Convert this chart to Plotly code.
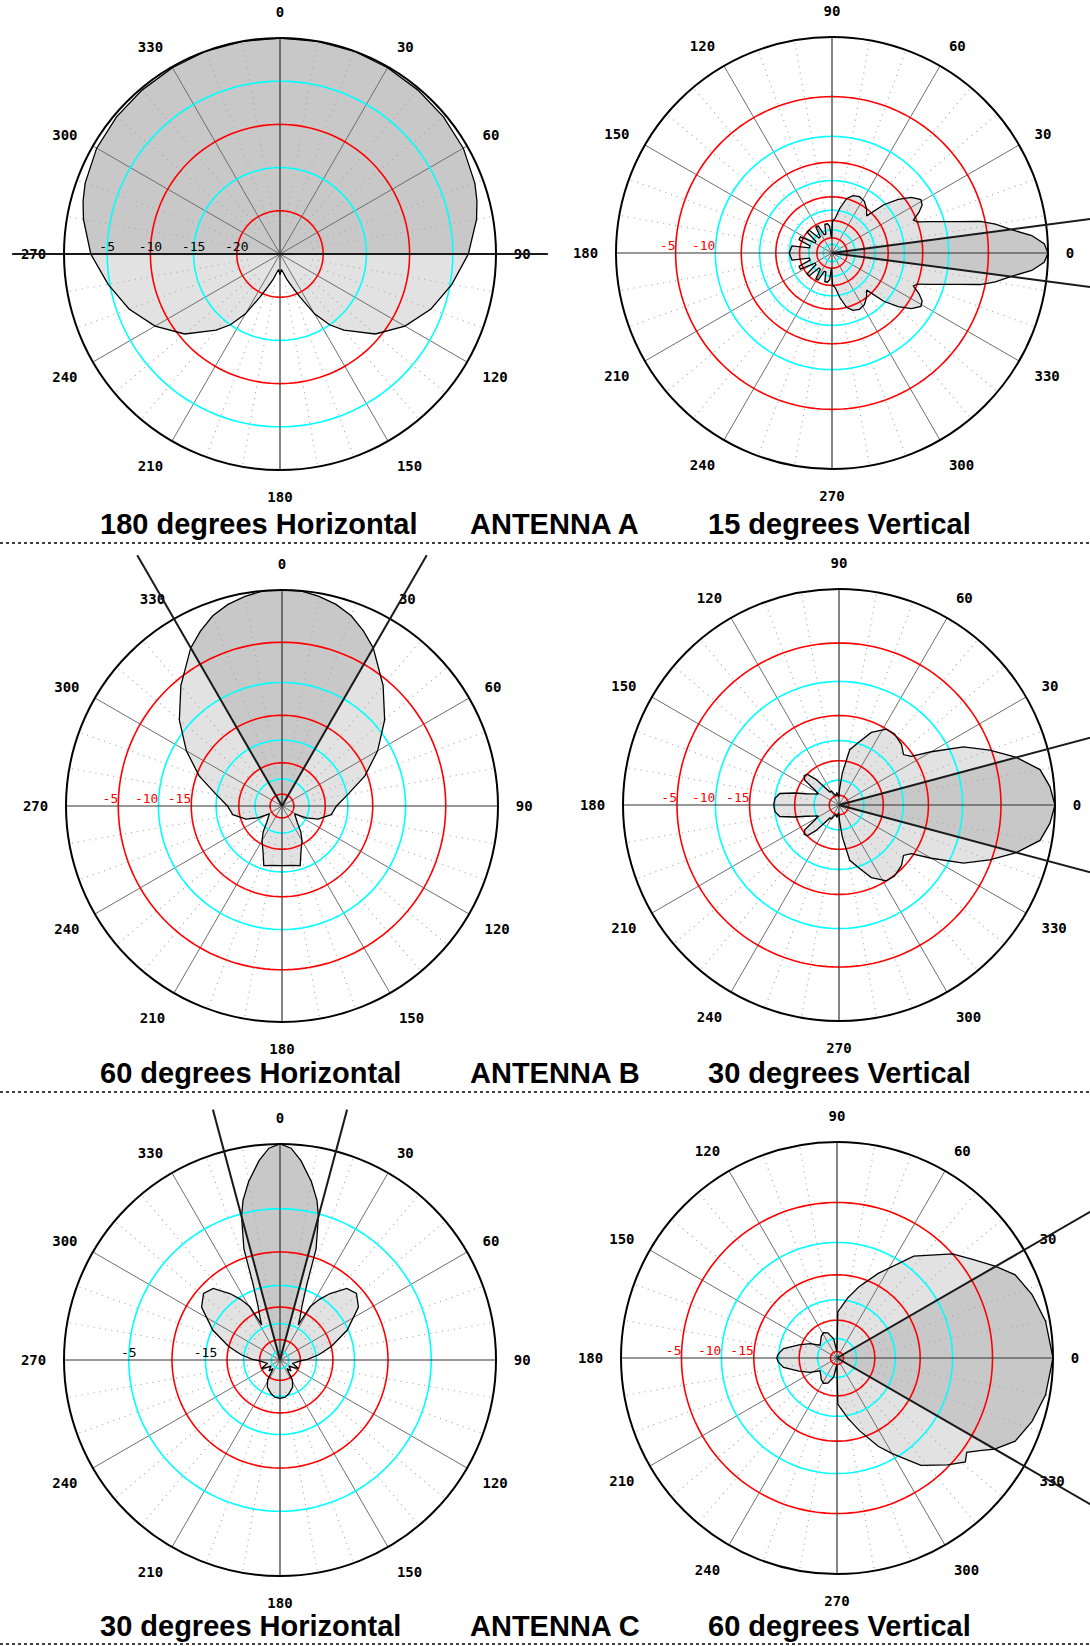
import numpy as np
import plotly.graph_objects as go

# ---------------------------------------------------------------- data
TICK_ANGLES = [0, 30, 60, 90, 120, 150, 180, 210, 240, 270, 300, 330]
TICK_LABELS = ["0", "30", "60", "90", "120", "150", "180", "210", "240", "270", "300", "330"]

# Antenna A - horizontal pattern (180 deg beam), bearing clockwise from top, dB
A_H_THETA = [-180, -175, -170, -165, -160, -155, -150, -145, -140, -130, -120, -110, -100, -90,
             -80, -75, -70, -60, -50, -40, -30, -20, -10, 0, 10, 20, 30, 40, 50, 60, 70, 75, 80,
             90, 100, 110, 120, 130, 140, 145, 150, 155, 160, 165, 170, 175, 180]
A_H_DB = [-22.6, -23.2, -22.8, -22.0, -21.0, -19.5, -17.0, -15.0, -13.5, -10.6, -8.3, -6.4, -4.8, -3.1,
          -1.9, -1.4, -1.0, -0.5, -0.3, -0.2, -0.1, 0, 0, 0, 0, 0, -0.1, -0.2, -0.3, -0.5, -1.0, -1.4, -1.9,
          -3.2, -4.8, -6.4, -8.3, -10.6, -13.5, -15.0, -17.0, -19.5, -21.0, -22.0, -22.8, -23.2, -22.6]

# Antenna A - vertical pattern (15 deg beam), elevation counter-clockwise from right, dB
A_V_THETA = [-180, -170, -167, -162, -158, -153, -149, -144, -140, -135, -131, -126, -122, -117, -113,
             -108, -104, -99, -95, -92, -89, -85, -80, -75, -70, -64, -58, -52, -47, -43, -39, -35, -31,
             -28, -25, -22, -20, -18, -16, -14, -12, -10, -7.5, -5, -2.5, 0, 2.5, 5, 7.5, 10, 12, 14,
             16, 18, 20, 22, 25, 28, 31, 35, 39, 43, 47, 52, 58, 64, 70, 75, 80, 85, 89, 92, 95, 99,
             104, 108, 113, 117, 122, 126, 131, 135, 140, 144, 149, 153, 158, 162, 167, 170, 180]
A_V_DB = [-30.0, -31.0, -40.0, -40.0, -33.5, -33.5, -42.0, -42.0, -35.0, -35.0, -42.0, -42.0, -36.0,
          -36.0, -42.0, -42.0, -36.5, -36.5, -38.0, -45.0, -35.0, -34.0, -29.0, -25.0, -23.5, -23.0,
          -23.5, -25.0, -27.0, -20.5, -16.5, -13.8, -12.5, -12.8, -14.0, -15.8, -15.0, -12.9, -10.6,
          -8.4, -5.6, -4.2, -3.0, -1.3, -0.3, 0, -0.3, -1.3, -3.0, -4.2, -5.6, -8.4, -10.6, -12.9,
          -15.0, -15.8, -14.0, -12.8, -12.5, -13.8, -16.5, -20.5, -27.0, -25.0, -23.5, -23.0, -23.5,
          -25.0, -29.0, -34.0, -35.0, -45.0, -38.0, -36.5, -36.5, -42.0, -42.0, -36.0, -36.0, -42.0,
          -42.0, -35.0, -35.0, -42.0, -42.0, -33.5, -33.5, -40.0, -40.0, -31.0, -30.0]

# Antenna B - horizontal pattern (60 deg beam)
B_H_THETA = [-180, -170, -163, -158, -150, -144, -137, -130, -122, -116, -110, -100, -90, -80, -70,
             -60, -50, -40, -30, -25, -20, -15, -10, -5, 0, 5, 10, 15, 20, 25, 30, 40, 50, 60, 70, 80,
             90, 100, 110, 116, 122, 130, 137, 144, 150, 158, 163, 170, 180]
B_H_DB = [-21.4, -21.2, -20.8, -23.4, -26.0, -28.5, -31.5, -33.0, -34.0, -30.0, -26.5, -23.5, -22.5,
          -19.8, -15.5, -12.0, -8.7, -5.8, -3.2, -2.2, -1.3, -0.7, -0.3, 0, 0, 0, -0.3, -0.7, -1.3,
          -2.2, -3.2, -5.8, -8.7, -12.0, -15.5, -19.8, -22.5, -23.5, -26.5, -30.0, -34.0, -33.0,
          -31.5, -28.5, -26.0, -23.4, -20.8, -21.2, -21.4]

# Antenna B - vertical pattern (30 deg beam)
B_V_THETA = [-180, -174, -169, -165, -161, -157, -152, -148, -144, -140, -136, -132, -125, -118, -110,
             -100, -92, -88, -84, -79, -72, -66, -58, -52, -44, -38, -34, -30, -25, -20, -15, -10, -5,
             0, 5, 10, 15, 20, 25, 30, 34, 38, 44, 52, 58, 66, 72, 79, 84, 88, 92, 100, 110, 118, 125,
             132, 136, 140, 144, 148, 152, 157, 161, 165, 169, 174, 180]
B_V_DB = [-19.8, -20.0, -21.0, -24.5, -27.5, -29.0, -30.5, -29.0, -25.5, -24.7, -25.0, -27.5, -33.0,
          -33.0, -35.0, -34.0, -36.0, -33.0, -28.0, -22.0, -19.5, -17.0, -15.0, -14.9, -15.5, -16.5,
          -15.5, -12.5, -8.2, -5.2, -3.0, -1.1, -0.4, 0, -0.4, -1.1, -3.0, -5.2, -8.2, -12.5, -15.5,
          -16.5, -15.5, -14.9, -15.0, -17.0, -19.5, -22.0, -28.0, -33.0, -36.0, -34.0, -35.0, -33.0,
          -33.0, -27.5, -25.0, -24.7, -25.5, -29.0, -30.5, -29.0, -27.5, -24.5, -21.0, -20.0, -19.8]

# Antenna C - horizontal pattern (30 deg beam)
C_H_THETA = [-180, -172, -165, -155, -148, -141, -135, -125, -115, -105, -95, -88, -82, -75, -66, -56,
             -49, -43, -37, -33, -29.5, -27.5, -25, -22, -19.5, -18, -15, -13, -10, -6, -3, 0, 3, 6,
             10, 13, 15, 18, 19.5, 22, 25, 27.5, 29.5, 33, 37, 43, 49, 56, 66, 75, 82, 88, 95, 105,
             115, 125, 135, 141, 148, 155, 165, 172, 180]
C_H_DB = [-24.4, -24.6, -25.5, -27.0, -29.0, -34.0, -32.0, -34.0, -30.0, -33.0, -31.0, -27.5, -24.0,
          -19.9, -15.2, -12.0, -11.0, -11.5, -13.7, -15.5, -18.0, -24.0, -21.6, -18.5, -14.0, -9.0,
          -5.3, -4.0, -2.7, -1.2, -0.3, 0, -0.3, -1.2, -2.7, -4.0, -5.3, -9.0, -14.0, -18.5, -21.6,
          -24.0, -18.0, -15.5, -13.7, -11.5, -11.0, -12.0, -15.2, -19.9, -24.0, -27.5, -31.0, -33.0,
          -30.0, -34.0, -32.0, -34.0, -29.0, -27.0, -25.5, -24.6, -24.4]

# Antenna C - vertical pattern (60 deg beam)
C_V_THETA = [-180, -176, -170, -161, -152, -143, -135, -126, -118, -110, -100, -91, -89, -86, -80, -73,
             -65, -60, -52, -44, -39, -36, -33, -30, -25, -18, -10, 0, 10, 18, 25, 30, 36, 42, 53,
             64, 73, 80, 86, 89, 91, 100, 110, 118, 126, 135, 143, 152, 161, 170, 176, 180]
C_V_DB = [-19.6, -19.9, -21.0, -24.4, -27.0, -29.5, -29.0, -28.0, -27.5, -28.0, -30.0, -35.0, -23.0,
          -22.0, -19.5, -16.5, -12.8, -10.8, -7.4, -5.2, -4.2, -4.6, -3.8, -2.8, -1.6, -0.9, -0.35,
          0, -0.35, -0.9, -1.6, -2.7, -4.0, -5.0, -8.5, -13.3, -16.8, -19.5, -22.0, -23.0, -35.0,
          -30.0, -28.0, -27.5, -28.0, -29.0, -29.5, -27.0, -24.4, -21.0, -19.9, -19.6]

# dB scale of each plot (ring level -> fraction of the outer radius)
A_H_SCALE_DB = [-25, -20, -15, -10, -5, 0]
A_H_SCALE_R = [0.0, 0.2, 0.4, 0.6, 0.8, 1.0]
A_V_SCALE_DB = [-55, -50, -45, -40, -35, -30, -25, -20, -15, -10, -5, 0]
A_V_SCALE_R = [0.0, 0.04, 0.07, 0.107, 0.15, 0.198, 0.26, 0.335, 0.42, 0.54, 0.724, 1.0]
B_H_SCALE_DB = [-40, -35, -30, -25, -20, -15, -10, -5, 0]
B_H_SCALE_R = [0.0, 0.055, 0.125, 0.2, 0.305, 0.42, 0.572, 0.758, 1.0]
B_V_SCALE_DB = [-40, -35, -30, -25, -20, -15, -10, -5, 0]
B_V_SCALE_R = [0.0, 0.045, 0.115, 0.205, 0.298, 0.414, 0.572, 0.75, 1.0]
C_H_SCALE_DB = [-40, -35, -30, -25, -20, -15, -10, -5, 0]
C_H_SCALE_R = [0.0, 0.04, 0.094, 0.168, 0.245, 0.345, 0.50, 0.70, 1.0]
C_V_SCALE_DB = [-40, -35, -30, -25, -20, -15, -10, -5, 0]
C_V_SCALE_R = [0.0, 0.03, 0.09, 0.175, 0.27, 0.385, 0.535, 0.72, 1.0]

BEAMWIDTHS = [180, 15, 60, 30, 30, 60]
RADIAL_LABELS = [[-5, -10, -15, -20], [-5, -10], [-5, -10, -15], [-5, -10, -15], [-5, -15], [-5, -10, -15]]
ROW_TITLES = [("180 degrees Horizontal", "ANTENNA A", "15 degrees Vertical"),
              ("60 degrees Horizontal", "ANTENNA B", "30 degrees Vertical"),
              ("30 degrees Horizontal", "ANTENNA C", "60 degrees Vertical")]

# ---------------------------------------------------------------- style
W, H = 1090, 1646
R = 216
RED, CYAN = "#ff0000", "#00ffff"
LIGHT, DARK = "#e2e2e2", "#c8c8c8"

panels = [
    dict(theta=A_H_THETA, db=A_H_DB, sdb=A_H_SCALE_DB, sr=A_H_SCALE_R, kind="h", c=(280, 254),
         ext=1.24, first=CYAN, lcol="black", lpos="top center"),
    dict(theta=A_V_THETA, db=A_V_DB, sdb=A_V_SCALE_DB, sr=A_V_SCALE_R, kind="v", c=(832, 253),
         ext=1.6, first=RED, lcol=RED, lpos="top left"),
    dict(theta=B_H_THETA, db=B_H_DB, sdb=B_H_SCALE_DB, sr=B_H_SCALE_R, kind="h", c=(282, 806),
         ext=1.34, first=RED, lcol=RED, lpos="top left"),
    dict(theta=B_V_THETA, db=B_V_DB, sdb=B_V_SCALE_DB, sr=B_V_SCALE_R, kind="v", c=(839, 805),
         ext=1.6, first=RED, lcol=RED, lpos="top left"),
    dict(theta=C_H_THETA, db=C_H_DB, sdb=C_H_SCALE_DB, sr=C_H_SCALE_R, kind="h", c=(280, 1360),
         ext=1.2, first=CYAN, lcol="black", lpos="top center"),
    dict(theta=C_V_THETA, db=C_V_DB, sdb=C_V_SCALE_DB, sr=C_V_SCALE_R, kind="v", c=(837, 1358),
         ext=1.6, first=RED, lcol=RED, lpos="top left"),
]

fig = go.Figure()
layout_polars = {}
shapes = []

for i, p in enumerate(panels):
    sub = "polar" if i == 0 else f"polar{i + 1}"
    sdb = np.array(p["sdb"], float)
    sr = np.array(p["sr"], float)

    def scale(v, sdb=sdb, sr=sr):
        return np.interp(np.asarray(v, float), sdb, sr)

    th = np.array(p["theta"], float)
    rr = scale(p["db"])
    common = dict(subplot=sub, hoverinfo="skip", showlegend=False)

    # light fill (whole pattern)
    fig.add_trace(go.Scatterpolar(theta=th, r=rr, mode="lines", fill="toself", fillcolor=LIGHT,
                                  line=dict(width=0, color="rgba(0,0,0,0)"), **common))
    # dark fill (part of the pattern inside the beamwidth)
    half = BEAMWIDTHS[i] / 2.0
    sel = np.abs(th) <= half + 1e-9
    th_d = np.concatenate([[th[sel][0]], th[sel], [th[sel][-1]]])
    r_d = np.concatenate([[0.0], rr[sel], [0.0]])
    fig.add_trace(go.Scatterpolar(theta=th_d, r=r_d, mode="lines", fill="toself", fillcolor=DARK,
                                  line=dict(width=0, color="rgba(0,0,0,0)"), **common))

    # dotted 10-degree lines
    dt, dr = [], []
    for a in range(0, 360, 10):
        if a % 30:
            dt += [a, a, None]
            dr += [0.15, 1.0, None]
    fig.add_trace(go.Scatterpolar(theta=dt, r=dr, mode="lines",
                                  line=dict(color="#a8a8a8", width=1.2, dash="1px,5px"), **common))
    # 30-degree spokes
    st, srr = [], []
    for a in TICK_ANGLES:
        if a % 90:
            st += [a, a, None]
            srr += [0.0, 1.0, None]
    fig.add_trace(go.Scatterpolar(theta=st, r=srr, mode="lines",
                                  line=dict(color="#6e6e6e", width=1), **common))

    # coloured dB rings
    levels = [v for v in p["sdb"] if v < 0 and v > min(p["sdb"])][::-1]
    other = CYAN if p["first"] == RED else RED
    ring_t = np.arange(0, 361, 2.0)
    for col in (p["first"], other):
        rt, rv = [], []
        for k, lv in enumerate(levels):
            c = p["first"] if k % 2 == 0 else other
            if c != col:
                continue
            rt += list(ring_t) + [None]
            rv += [float(scale(lv))] * len(ring_t) + [None]
        fig.add_trace(go.Scatterpolar(theta=rt, r=rv, mode="lines",
                                      line=dict(color=col, width=1.6), **common))

    # main axes
    mt, mr = [], []
    for a in (0, 90, 180, 270):
        mt += [a, a, None]
        mr += [0.0, 1.0, None]
    fig.add_trace(go.Scatterpolar(theta=mt, r=mr, mode="lines",
                                  line=dict(color="#333333", width=1.2), **common))

    # pattern outline
    fig.add_trace(go.Scatterpolar(theta=th, r=rr, mode="lines",
                                  line=dict(color="black", width=1.3), **common))

    # dB labels
    lab_theta = -90 if p["kind"] == "h" else 180
    labs = RADIAL_LABELS[i]
    fig.add_trace(go.Scatterpolar(theta=[lab_theta] * len(labs), r=scale(labs), mode="text",
                                  text=[str(v) for v in labs], textposition=p["lpos"],
                                  cliponaxis=False,
                                  textfont=dict(family="DejaVu Sans Mono", size=13, color=p["lcol"]),
                                  **common))

    cx, cy = p["c"]
    layout_polars[sub] = dict(
        domain=dict(x=[(cx - R) / W, (cx + R) / W], y=[1 - (cy + R) / H, 1 - (cy - R) / H]),
        bgcolor="white",
        radialaxis=dict(visible=False, range=[0, 1]),
        angularaxis=dict(
            direction="clockwise" if p["kind"] == "h" else "counterclockwise",
            rotation=90 if p["kind"] == "h" else 0,
            tickmode="array", tickvals=TICK_ANGLES, ticktext=TICK_LABELS,
            showgrid=False, showline=True, linecolor="black", linewidth=2,
            ticks="outside", ticklen=14, tickcolor="rgba(0,0,0,0)",
            tickfont=dict(family="DejaVu Sans Mono", size=14, color="black", weight="bold"),
            layer="above traces"),
    )

    # beamwidth lines: from the centre out through +/- half the beamwidth, past the rim
    for a in (half, -half):
        ang = np.radians(a)
        if p["kind"] == "h":
            ux, uy = np.sin(ang), np.cos(ang)
        else:
            ux, uy = np.cos(ang), np.sin(ang)
        shapes.append(dict(type="line", xref="paper", yref="paper",
                           x0=cx / W, y0=1 - cy / H,
                           x1=(cx + p["ext"] * R * ux) / W, y1=1 - (cy - p["ext"] * R * uy) / H,
                           line=dict(color="#1a1a1a", width=2)))

# titles and separators
annotations = []
title_y = [524, 1073, 1626]
sep_y = [543, 1092, 1644]
title_x = [98, 468, 706]
for row in range(3):
    for k in range(3):
        annotations.append(dict(text=ROW_TITLES[row][k], x=title_x[k] / W, y=1 - title_y[row] / H,
                                xref="paper", yref="paper", xanchor="left", yanchor="middle",
                                showarrow=False,
                                font=dict(family="Liberation Sans, Arial", size=29, color="black",
                                          weight="bold")))
    shapes.append(dict(type="line", xref="paper", yref="paper", x0=0, x1=1,
                       y0=1 - sep_y[row] / H, y1=1 - sep_y[row] / H,
                       line=dict(color="black", width=1.5, dash="3px,3px")))

fig.update_layout(width=W, height=H, margin=dict(l=0, r=0, t=0, b=0),
                  paper_bgcolor="white", plot_bgcolor="white", showlegend=False,
                  annotations=annotations, shapes=shapes, **layout_polars)

fig.write_html("out.html", config={"displayModeBar": False},
               post_script="document.body.style.margin='0';")
